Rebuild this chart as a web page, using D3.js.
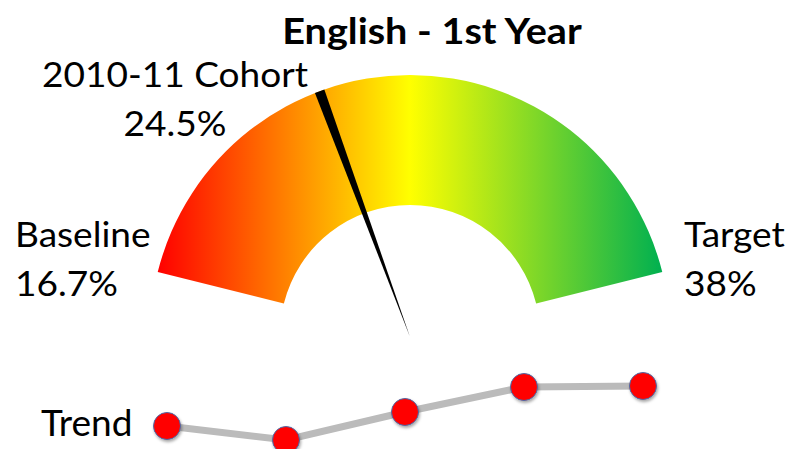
<!DOCTYPE html>
<html>
<head>
<meta charset="utf-8">
<script src="https://cdn.jsdelivr.net/npm/d3@7"></script>
<style>
    body { margin: 0; background: #fff; }
    text { font-family: Lato, "Open Sans", sans-serif; fill: #000; }
</style>
</head>
<body>
<svg id="chart"></svg>
<script>
// gauge values
const title = "English - 1st Year";
const gaugeLabels = ["Baseline", "2010-11 Cohort", "Target"];
const gaugeValues = [16.7, 24.5, 38];
// trend values
const trendYears = ["2006-07", "2007-08", "2008-09", "2009-10", "2010-11"];
const trendValues = [20.5, 19.1, 21.9, 24.4, 24.5];

class GaugeChart {
    constructor(id, width, height) {
        this.width = width;
        this.height = height;
        this.svg = d3.select(id).attr("width", width).attr("height", height);

        this.cx = 410;
        this.cy = 335;
        this.outerR = 260;
        this.innerR = 130;
        this.span = 76 * Math.PI / 180; // half opening of the gauge
    }

    // text looks a bit stretched sideways in the original, so scale x
    addText(x, y, anchor, size, sx, lines, bold) {
        const t = this.svg.append("text")
            .attr("transform", `translate(${x},${y}) scale(${sx},1)`)
            .attr("text-anchor", anchor)
            .attr("font-size", size + "px")
            .attr("font-weight", bold ? "bold" : "normal");
        lines.forEach((l, i) => t.append("tspan")
            .attr("x", 0).attr("dy", i === 0 ? 0 : 49).text(l));
        return t;
    }

    draw() {
        const svg = this.svg;
        const defs = svg.append("defs");
        const halfSpanX = this.outerR * Math.sin(this.span);

        const grad = defs.append("linearGradient")
            .attr("id", "gaugeGrad")
            .attr("gradientUnits", "userSpaceOnUse")
            .attr("x1", -halfSpanX)
            .attr("x2", halfSpanX)
            .attr("y1", 0).attr("y2", 0);
        grad.selectAll("stop")
            .data([[0, "#ff0000"], [0.5, "#ffff00"], [1, "#00b050"]])
            .enter().append("stop")
            .attr("offset", d => d[0])
            .attr("stop-color", d => d[1]);

        const shadow = defs.append("filter").attr("id", "shadow")
            .attr("x", "-50%").attr("y", "-50%").attr("width", "200%").attr("height", "200%");
        shadow.append("feDropShadow")
            .attr("dx", 1).attr("dy", 2).attr("stdDeviation", 1.5)
            .attr("flood-color", "#000").attr("flood-opacity", 0.35);

        // value -> angle
        this.angle = d3.scaleLinear()
            .domain([gaugeValues[0], gaugeValues[2]])
            .range([-this.span, this.span]);

        const g = svg.append("g").attr("transform", `translate(${this.cx},${this.cy})`);

        const arc = d3.arc()
            .innerRadius(this.innerR)
            .outerRadius(this.outerR)
            .startAngle(-this.span)
            .endAngle(this.span);

        g.append("path")
            .attr("d", arc())
            .attr("fill", "url(#gaugeGrad)");

        // needle: wide end at the outer edge, point at the centre
        const a = this.angle(gaugeValues[1]);
        const halfW = 5;
        const R = this.outerR;
        const pts = [
            [R * Math.sin(a) - halfW * Math.cos(a), -R * Math.cos(a) - halfW * Math.sin(a)],
            [R * Math.sin(a) + halfW * Math.cos(a), -R * Math.cos(a) + halfW * Math.sin(a)],
            [0, 2]
        ];
        g.append("path")
            .attr("d", d3.line()(pts) + "Z")
            .attr("fill", "#000");

        // title + labels
        const fmt = v => `${v}%`;
        this.addText(432, 43.5, "middle", 36, 1.1, [title], true);
        this.addText(15, 247, "start", 34, 1.09, [gaugeLabels[0], fmt(gaugeValues[0])]);
        this.addText(175, 87, "middle", 34, 1.09, [gaugeLabels[1], fmt(gaugeValues[1])]);
        this.addText(684, 247, "start", 34, 1.09, [gaugeLabels[2], fmt(gaugeValues[2])]);

        // trend line
        this.addText(41, 436, "start", 36, 1.03, ["Trend"]);

        const x = d3.scalePoint().domain(trendYears).range([167, 643]);
        const y = d3.scaleLinear()
            .domain(d3.extent(trendValues))
            .range([440, 386]);

        svg.append("path")
            .datum(trendValues)
            .attr("fill", "none")
            .attr("stroke", "#bbbbbb")
            .attr("stroke-width", 7)
            .attr("d", d3.line().x((d, i) => x(trendYears[i])).y(d => y(d)));

        svg.selectAll(".dot")
            .data(trendValues).enter()
            .append("circle")
            .attr("class", "dot")
            .attr("cx", (d, i) => x(trendYears[i]))
            .attr("cy", d => y(d))
            .attr("r", 13.5)
            .attr("fill", "#ff0000")
            .attr("stroke", "#4a6aa8")
            .attr("stroke-width", 1)
            .attr("filter", "url(#shadow)");
    }
}

const chart = new GaugeChart("#chart", 793, 449);
chart.draw();
</script>
</body>
</html>
